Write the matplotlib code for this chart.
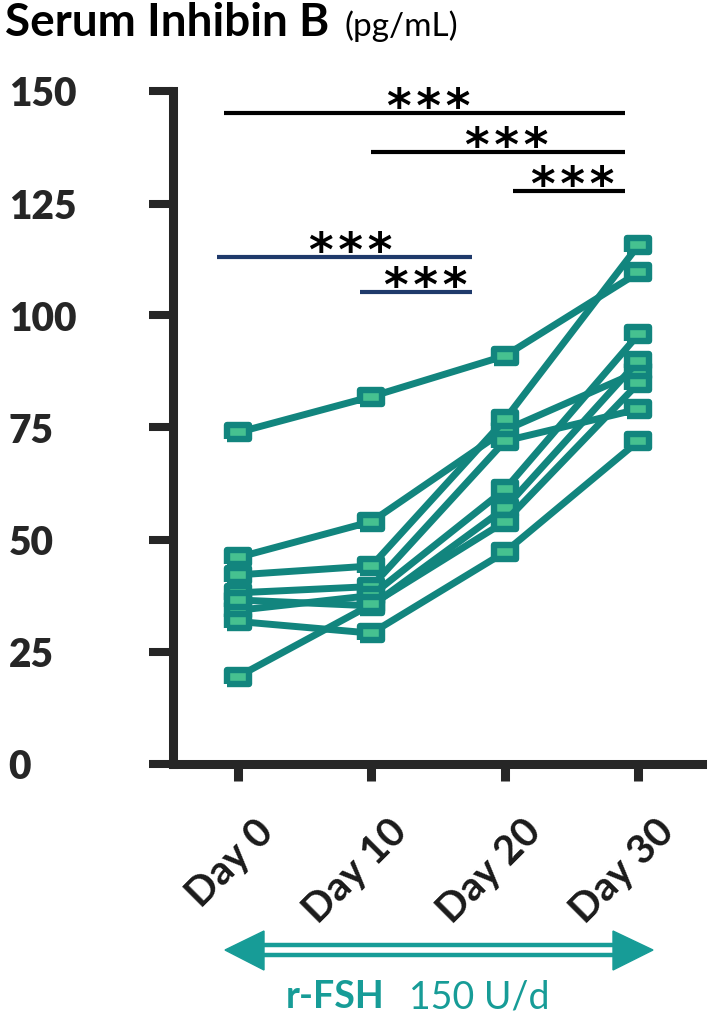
import matplotlib
matplotlib.use('Agg')
import matplotlib.pyplot as plt
from matplotlib.patches import Polygon
from matplotlib.lines import Line2D
from matplotlib.transforms import ScaledTranslation

plt.rcParams['font.family'] = ['Lato', 'DejaVu Sans']

# Serum inhibin B (pg/mL), one list per patient
days = ['Day 0', 'Day 10', 'Day 20', 'Day 30']
p1 = [73.9, 81.9, 91.0, 109.6]
p2 = [46.0, 54.0, 74.4, 87.5]
p3 = [42.1, 44.1, 76.8, 115.7]
p4 = [38.1, 39.5, 72.0, 79.1]
p5 = [34.2, 37.5, 61.2, 95.8]
p6 = [36.5, 35.2, 57.0, 89.9]
p7 = [19.4, 35.5, 54.0, 84.9]
p8 = [31.7, 29.1, 47.2, 72.0]
patients = [p1, p2, p3, p4, p5, p6, p7, p8]

yticks = [0, 25, 50, 75, 100, 125, 150]

# significance brackets: x start, x end, y level, stars x, colour
brackets = [
    (-0.105, 2.90, 145.1, 1.43, 'black'),
    (1.00, 2.90, 136.6, 2.015, 'black'),
    (2.06, 2.90, 127.9, 2.51, 'black'),
    (-0.157, 1.75, 113.1, 0.846, '#1f3a6b'),
    (0.914, 1.75, 105.2, 1.408, '#1f3a6b'),
]
stars = '*\u200a*\u200a*'

line_c = '#12857e'
face_c = '#46c190'
teal = '#179c97'
dark = '#262626'

W, H = 711, 1021
fx = lambda px: px / W
fy = lambda py: 1 - py / H

fig = plt.figure(figsize=(7.11, 10.21), dpi=100)
ax = fig.add_axes([fx(172.5), fy(763.5), (701.5 - 172.5) / W, (763.5 - 91.5) / H])

rect = [(-1, -0.62), (1, -0.62), (1, 0.62), (-1, 0.62), (-1, -0.62)]
x = list(range(len(days)))
for vals in patients:
    ax.plot(x, vals, color=line_c, lw=5, marker=rect, ms=15.5, mec=line_c,
            mew=4.6, mfc=face_c, clip_on=False, zorder=3)

ax.set_xlim(-0.4906, 3.472)
ax.set_ylim(0, 150)
ax.spines['top'].set_visible(False)
ax.spines['right'].set_visible(False)
for s in ['left', 'bottom']:
    ax.spines[s].set_linewidth(6.5)
    ax.spines[s].set_color(dark)

ax.set_yticks(yticks)
ax.tick_params(axis='y', length=17, width=5.8, pad=101, labelsize=28,
               colors=dark)
for lbl in ax.get_yticklabels():
    lbl.set_ha('left')
    lbl.set_fontweight('heavy')

ax.set_xticks(x, days)
ax.tick_params(axis='x', length=12, width=6.5, pad=33, labelsize=29,
               colors=dark, labelcolor='#1a1a1a')
offset = ScaledTranslation(0.30, 0, fig.dpi_scale_trans)
for lbl in ax.get_xticklabels():
    lbl.set_rotation(45)
    lbl.set_ha('right')
    lbl.set_va('center')
    lbl.set_rotation_mode('anchor')
    lbl.set_fontweight('bold')
    lbl.set_transform(lbl.get_transform() + offset)

# significance brackets
star_tr = ax.transData + ScaledTranslation(0, -0.09, fig.dpi_scale_trans)
for x0, x1, yb, xs, c in brackets:
    ax.plot([x0, x1], [yb, yb], color=c, lw=3, clip_on=False,
            solid_capstyle='butt')
    ax.text(xs, yb, stars, ha='center', va='baseline', fontsize=34,
            family='DejaVu Sans', fontweight='bold', color='black',
            transform=star_tr)

# title
fig.text(fx(5), fy(36), 'Serum Inhibin B', fontsize=33, fontweight='bold',
         va='baseline', color='black')
fig.text(fx(345), fy(36), '(pg/mL)', fontsize=24, va='baseline', color='black')

# treatment arrow
for py in [945, 954.5]:
    fig.add_artist(Line2D([fx(262), fx(615)], [fy(py), fy(py)], lw=3.2,
                          color=teal, transform=fig.transFigure))
fig.add_artist(Polygon([(fx(225), fy(950)), (fx(264), fy(931)),
                        (fx(264), fy(970))], closed=True, color=teal,
                       transform=fig.transFigure))
fig.add_artist(Polygon([(fx(653), fy(950)), (fx(613), fy(931)),
                        (fx(613), fy(970))], closed=True, color=teal,
                       transform=fig.transFigure))
fig.text(fx(286), fy(1008), 'r-FSH', fontsize=27, fontweight='bold',
         color=teal, va='baseline')
fig.text(fx(409), fy(1008), '150 U/d', fontsize=27, color=teal, va='baseline')

fig.savefig('out.png', dpi=100)
